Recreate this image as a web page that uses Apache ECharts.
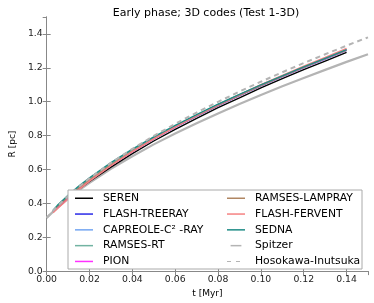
<!DOCTYPE html>
<html><head><meta charset="utf-8">
<script src="https://cdn.jsdelivr.net/npm/echarts@6/dist/echarts.min.js"></script>
<style>html,body{margin:0;padding:0;background:#fff}#c{width:374px;height:303px}</style>
</head><body><div id="c"></div>
<script>
var tCodes = [0.003,0.005,0.01,0.015,0.02,0.03,0.04,0.05,0.06,0.07,0.08,0.09,0.10,0.11,0.12,0.13,0.14];
var seren        = [0.352,0.375,0.432,0.484,0.530,0.614,0.694,0.768,0.836,0.902,0.965,1.022,1.081,1.136,1.189,1.240,1.291];
var flashTreeray = [0.356,0.380,0.438,0.490,0.539,0.626,0.707,0.781,0.850,0.915,0.977,1.036,1.094,1.148,1.201,1.252,1.303];
var capreole     = [0.357,0.382,0.440,0.493,0.542,0.630,0.711,0.785,0.854,0.919,0.981,1.040,1.097,1.151,1.204,1.255,1.306];
var ramsesRT     = [0.358,0.384,0.443,0.496,0.545,0.633,0.713,0.786,0.855,0.920,0.982,1.040,1.097,1.151,1.204,1.254,1.305];
var pion         = [0.353,0.377,0.434,0.487,0.536,0.624,0.705,0.780,0.850,0.916,0.979,1.038,1.096,1.150,1.203,1.254,1.304];
var ramsesLampray= [0.355,0.380,0.437,0.490,0.539,0.627,0.708,0.782,0.851,0.917,0.979,1.038,1.095,1.150,1.203,1.254,1.305];
var flashFervent = [0.345,0.368,0.425,0.480,0.531,0.622,0.705,0.781,0.852,0.919,0.982,1.042,1.100,1.156,1.210,1.262,1.315];
var sedna        = [0.360,0.388,0.448,0.502,0.551,0.640,0.720,0.792,0.860,0.924,0.985,1.043,1.099,1.153,1.205,1.256,1.307];

var tAnalytic = [0,0.003,0.005,0.01,0.015,0.02,0.03,0.04,0.05,0.06,0.07,0.08,0.09,0.10,0.11,0.12,0.13,0.14,0.15];
var spitzer  = [0.314,0.351,0.374,0.427,0.476,0.521,0.604,0.678,0.748,0.812,0.873,0.931,0.987,1.040,1.091,1.140,1.188,1.235,1.280];
var hosokawa = [0.314,0.356,0.382,0.443,0.497,0.548,0.639,0.722,0.798,0.869,0.936,0.999,1.060,1.118,1.174,1.228,1.280,1.331,1.380];

var xTicks = ['0.00','0.02','0.04','0.06','0.08','0.10','0.12','0.14'];
var yTicks = ['0.0','0.2','0.4','0.6','0.8','1.0','1.2','1.4'];

function pairs(xs, ys){ return ys.map(function(v,i){ return [xs[i], v]; }); }

var codes = [
  {name:'SEREN', data:seren, color:'#000000'},
  {name:'FLASH-TREERAY', data:flashTreeray, color:'#2a2ae8'},
  {name:'CAPREOLE-C² -RAY', data:capreole, color:'#74a6f2'},
  {name:'RAMSES-RT', data:ramsesRT, color:'#72b3a2'},
  {name:'PION', data:pion, color:'#ff30ff'},
  {name:'RAMSES-LAMPRAY', data:ramsesLampray, color:'#b08662'},
  {name:'FLASH-FERVENT', data:flashFervent, color:'#f58282'},
  {name:'SEDNA', data:sedna, color:'#1f8c86'}
];

var series = [];
series.push({name:'Spitzer', type:'line', data:pairs(tAnalytic, spitzer), showSymbol:false, symbol:'none',
  lineStyle:{color:'#b4b4b4', width:2.2}, itemStyle:{color:'#b4b4b4'}, z:2});
codes.forEach(function(c){
  series.push({name:c.name, type:'line', data:pairs(tCodes, c.data), showSymbol:false, symbol:'none',
    lineStyle:{color:c.color, width:1.4}, itemStyle:{color:c.color}, z:3});
});
series.push({name:'Hosokawa-Inutsuka', type:'line', data:pairs(tAnalytic, hosokawa), showSymbol:false, symbol:'none',
  lineStyle:{color:'#b4b4b4', width:2, type:[5,4]}, itemStyle:{color:'#b4b4b4'}, z:4});

var font = 'DejaVu Sans';
var chart = echarts.init(document.getElementById('c'), null, {renderer:'canvas'});
function mkLegend(left, names){
  return {orient:'vertical', left:left, top:192, padding:0, itemWidth:18, itemHeight:1.5, itemGap:3.3, z:10, icon:'rect',
    textStyle:{fontFamily:font, fontSize:10.8, color:'#000', lineHeight:12.5, padding:[0,0,0,5]},
    data:names.map(function(n){
      if(n==='Hosokawa-Inutsuka') return {name:n, icon:'path://M0,0h4v1h-4zM9,0h4v1h-4zM18,0h0v1h0z', itemStyle:{color:'#b4b4b4'}};
      if(n==='Spitzer') return {name:n, icon:'path://M0,0h18v2.5h-18z'};
      return {name:n};
    })};
}
chart.setOption({
  animation:false,
  title:{text:'Early phase; 3D codes (Test 1-3D)', left:201, top:3, textAlign:'center',
    textStyle:{fontFamily:font, fontSize:11, fontWeight:'normal', color:'#000'}},
  grid:{left:35, right:6, top:17, bottom:29},
  xAxis:[
    {type:'value', min:0, max:0.15, interval:0.02, name:'t [Myr]', nameLocation:'middle', nameGap:17,
     nameTextStyle:{fontFamily:font, fontSize:9, color:'#000'},
     axisLine:{show:true, lineStyle:{color:'#888'}}, axisTick:{show:true, inside:true, length:4, lineStyle:{color:'#888'}},
     splitLine:{show:false},
     axisLabel:{fontFamily:font, fontSize:9.3, color:'#222', margin:4, showMaxLabel:false,
       formatter:function(v){ return xTicks[Math.round(v/0.02)] || ''; }}},
    {type:'value', position:'top', min:0, max:0.15, interval:0.02,
     axisLine:{show:true, lineStyle:{color:'#888'}}, axisTick:{show:true, inside:true, length:4, lineStyle:{color:'#888'}},
     axisLabel:{show:false}, splitLine:{show:false}}
  ],
  yAxis:[
    {type:'value', min:0, max:1.5, interval:0.2, name:'R [pc]', nameLocation:'middle', nameGap:25,
     nameTextStyle:{fontFamily:font, fontSize:9, color:'#000'},
     axisLine:{show:true, lineStyle:{color:'#888'}}, axisTick:{show:true, inside:true, length:4, lineStyle:{color:'#888'}},
     splitLine:{show:false},
     axisLabel:{fontFamily:font, fontSize:9.3, color:'#222', margin:4, showMaxLabel:false,
       formatter:function(v){ return yTicks[Math.round(v/0.2)] || ''; }}},
    {type:'value', position:'right', min:0, max:1.5, interval:0.2,
     axisLine:{show:true, lineStyle:{color:'#888'}}, axisTick:{show:true, inside:true, length:4, lineStyle:{color:'#888'}},
     axisLabel:{show:false}, splitLine:{show:false}}
  ],
  graphic:[{type:'rect', shape:{x:68, y:190, width:294, height:79}, z:8,
    style:{fill:'#fff', stroke:'#aaa', lineWidth:1}}],
  legend:[
    mkLegend(75, ['SEREN','FLASH-TREERAY','CAPREOLE-C² -RAY','RAMSES-RT','PION']),
    mkLegend(227, ['RAMSES-LAMPRAY','FLASH-FERVENT','SEDNA','Spitzer','Hosokawa-Inutsuka'])
  ],
  series:series
});
</script></body></html>
